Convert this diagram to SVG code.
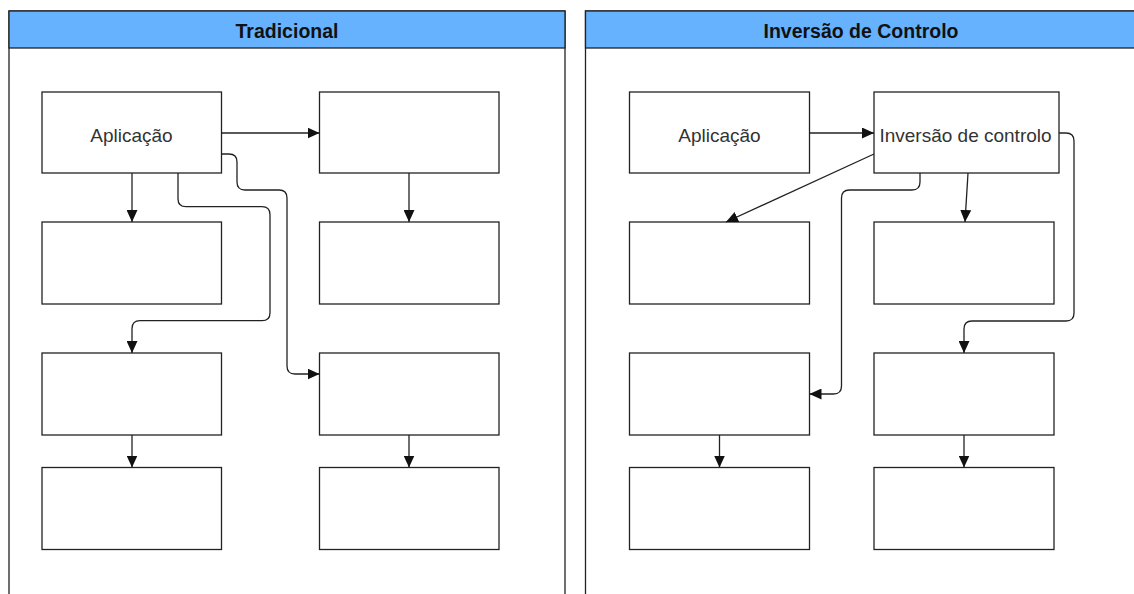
<svg xmlns="http://www.w3.org/2000/svg" width="1134" height="594" viewBox="0 0 1134 594">
  <style>
    .panel { fill: #ffffff; stroke: #222222; stroke-width: 1.3; }
    .head { fill: #66b2ff; stroke: #222222; stroke-width: 1.3; }
    .title { font-family: "Liberation Sans", Arial, sans-serif; font-size: 19.5px; font-weight: bold; fill: #111111; text-anchor: middle; }
    .box { fill: #ffffff; stroke: #222222; stroke-width: 1.3; }
    .label { font-family: "Liberation Sans", Arial, sans-serif; font-size: 19px; fill: #333333; text-anchor: middle; }
    .edge { fill: none; stroke: #222222; stroke-width: 1.3; marker-end: url(#arrow); }
  </style>
  <defs>
    <marker id="arrow" markerUnits="userSpaceOnUse" markerWidth="12" markerHeight="11" refX="12" refY="5.5" orient="auto">
      <path d="M0,0 L12,5.5 L0,11 Z" fill="#111111"/>
    </marker>
  </defs>
  <rect width="1134" height="594" fill="#ffffff"/>

  <!-- Panel: Tradicional -->
  <g id="panel-tradicional">
    <rect class="panel" x="9" y="11" width="556" height="600"/>
    <rect class="head" x="9" y="11" width="556" height="37"/>
    <text class="title" x="287" y="37.5">Tradicional</text>
  </g>

  <!-- Panel: Inversão de Controlo -->
  <g id="panel-ioc">
    <rect class="panel" x="585.5" y="11" width="560" height="600"/>
    <rect class="head" x="585.5" y="11" width="560" height="37"/>
    <text class="title" x="861" y="37.5">Inversão de Controlo</text>
  </g>

  <!-- Nodes, left panel -->
  <g id="t-app">
    <rect class="box" x="42" y="92" width="179.5" height="81"/>
    <text class="label" x="131.5" y="141.5">Aplicação</text>
  </g>
  <g id="t-r1c2"><rect class="box" x="319.5" y="92" width="179.5" height="81"/></g>
  <g id="t-r2c1"><rect class="box" x="42" y="222" width="179.5" height="82"/></g>
  <g id="t-r2c2"><rect class="box" x="319.5" y="222" width="179.5" height="82"/></g>
  <g id="t-r3c1"><rect class="box" x="42" y="353" width="179.5" height="82"/></g>
  <g id="t-r3c2"><rect class="box" x="319.5" y="353" width="179.5" height="82"/></g>
  <g id="t-r4c1"><rect class="box" x="42" y="467.5" width="179.5" height="82"/></g>
  <g id="t-r4c2"><rect class="box" x="319.5" y="467.5" width="179.5" height="82"/></g>

  <!-- Nodes, right panel -->
  <g id="i-app">
    <rect class="box" x="629.5" y="92" width="180" height="81"/>
    <text class="label" x="719.5" y="141.5">Aplicação</text>
  </g>
  <g id="i-ioc">
    <rect class="box" x="874" y="92" width="185" height="81"/>
    <text class="label" x="965.5" y="141.5">Inversão de controlo</text>
  </g>
  <g id="i-r2c1"><rect class="box" x="629.5" y="222" width="180" height="82"/></g>
  <g id="i-r2c2"><rect class="box" x="874" y="222" width="180" height="82"/></g>
  <g id="i-r3c1"><rect class="box" x="629.5" y="353" width="180" height="82"/></g>
  <g id="i-r3c2"><rect class="box" x="874" y="353" width="180" height="82"/></g>
  <g id="i-r4c1"><rect class="box" x="629.5" y="467.5" width="180" height="82"/></g>
  <g id="i-r4c2"><rect class="box" x="874" y="467.5" width="180" height="82"/></g>

  <!-- Connectors -->
  <g id="connectors">
    <!-- left panel -->
    <path class="edge" d="M221.5,133 H319.5"/>
    <path class="edge" d="M132,173 V222"/>
    <path class="edge" d="M178,173 V198.7 Q178,206.7 186,206.7 H262 Q270,206.7 270,214.7 V312.7 Q270,320.7 262,320.7 H140 Q132,320.7 132,328.7 V353"/>
    <path class="edge" d="M221.5,154 H229 Q237,154 237,162 V182 Q237,190 245,190 H279 Q287,190 287,198 V366 Q287,374 295,374 H319.5"/>
    <path class="edge" d="M409,173 V222"/>
    <path class="edge" d="M132,435 V467.5"/>
    <path class="edge" d="M409,435 V467.5"/>
    <!-- right panel -->
    <path class="edge" d="M809.5,133 H874"/>
    <path class="edge" d="M874,154 L726,222"/>
    <path class="edge" d="M968,173 L965,222"/>
    <path class="edge" d="M920,173 V182 Q920,190 912,190 H849.5 Q841.5,190 841.5,198 V386 Q841.5,394 833.5,394 H809.5"/>
    <path class="edge" d="M1059,133 H1066 Q1074,133 1074,141 V313 Q1074,321 1066,321 H972 Q964,321 964,329 V353"/>
    <path class="edge" d="M719.5,435 V467.5"/>
    <path class="edge" d="M964,435 V467.5"/>
  </g>
</svg>
